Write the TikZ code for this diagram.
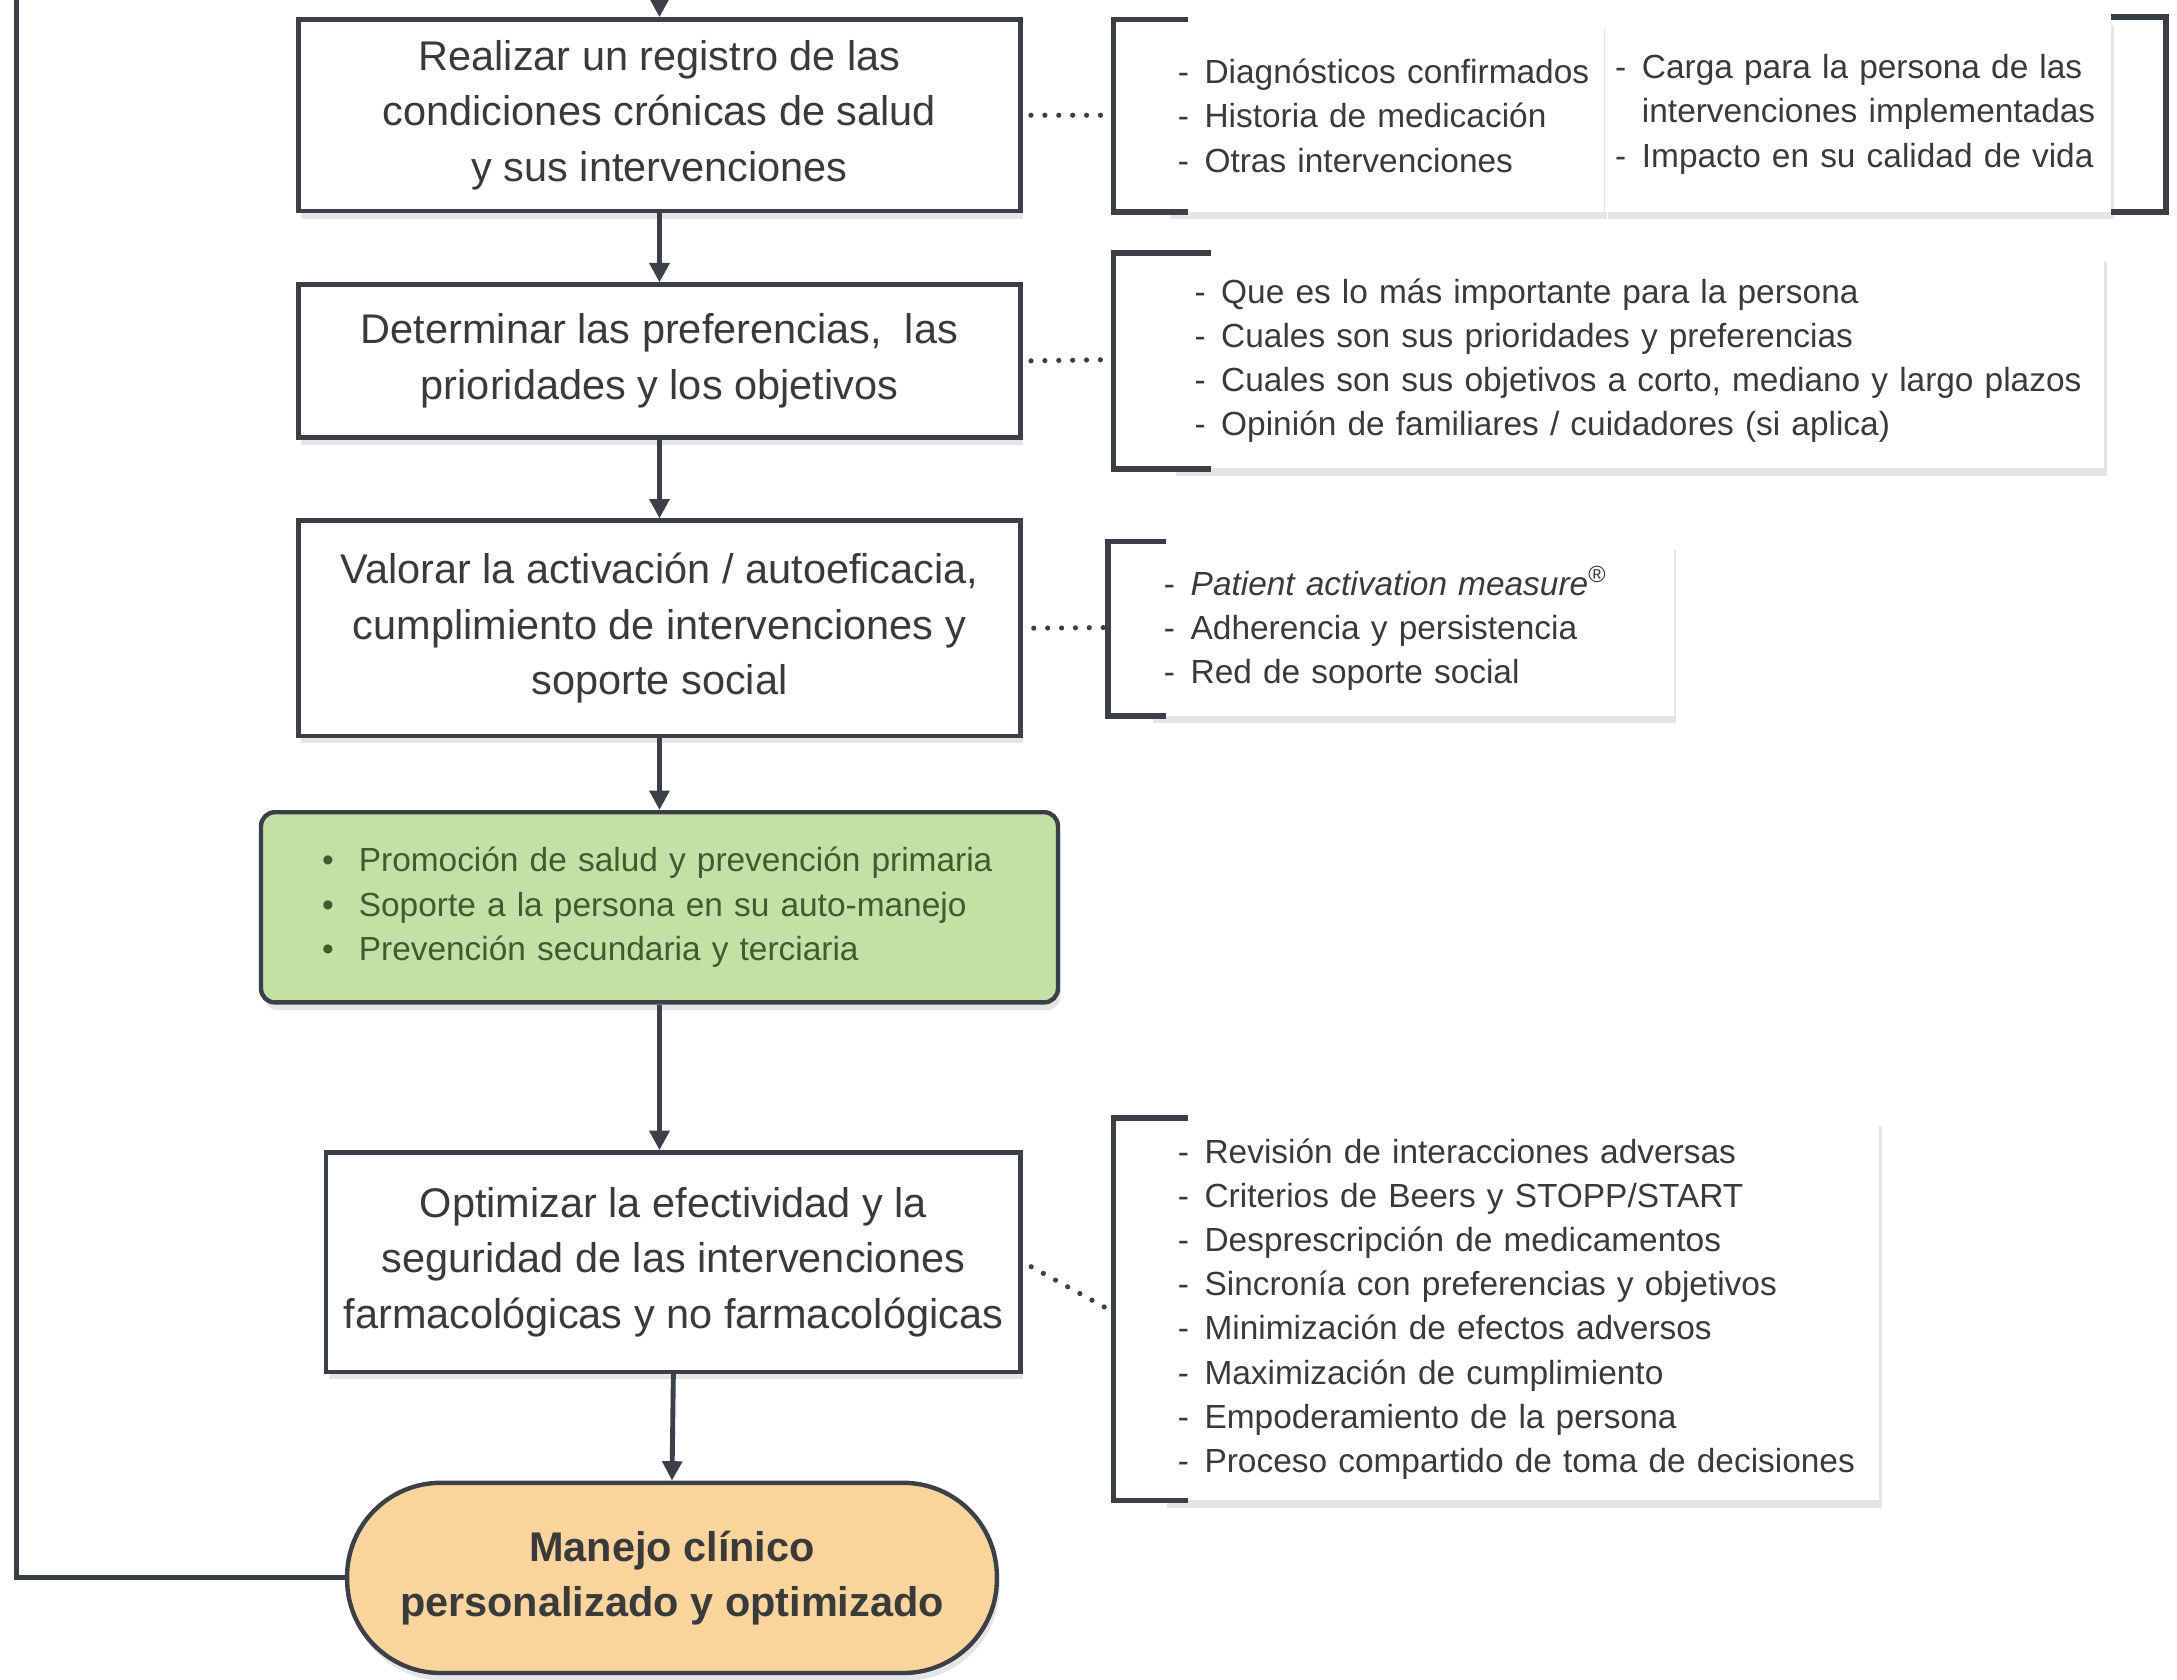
\documentclass[tikz,border=0pt]{standalone}
\usepackage{fontspec}
\setmainfont{Liberation Sans}
\usetikzlibrary{arrows.meta, shadows}

\definecolor{borde}{HTML}{3B4046}
\definecolor{texto}{HTML}{3A3A3A}
\definecolor{verde}{HTML}{C5E0A6}
\definecolor{verdeosc}{HTML}{3E5C30}
\definecolor{naranja}{HTML}{FAD49D}

\newcommand\grande{\fontsize{17}{22.8}\selectfont}
\newcommand\chico{\fontsize{13.7}{18.1}\selectfont}
\newcommand\guion{\makebox[0.8em][l]{-}}
\newcommand\punto{\makebox[1.1em][l]{\textbullet}}

\tikzset{
  sombra/.style={drop shadow={shadow xshift=0.4mm, shadow yshift=-1.1mm, fill=black, opacity=0.1}},
  caja/.style={draw=borde, line width=1.8pt, fill=white, text=texto, font=\grande, align=center, sombra},
  panel/.style={fill=white, text=texto, font=\chico, align=left, anchor=north west, inner ysep=0pt, sombra},
  flecha/.style={draw=borde, line width=2pt, -{Triangle[length=2.8mm, width=2.8mm]}},
  linea/.style={draw=borde, line width=2pt},
  corchete/.style={draw=borde, line width=2.4pt},
  puntos/.style={draw=borde, line width=0.75mm, line cap=round, dash pattern=on 0pt off 2mm},
}

\begin{document}
\begin{tikzpicture}[x=0.2mm, y=-0.2mm]
  \useasboundingbox (0,0) rectangle (1568,1210);

  \begin{scope}
    \node[caja, minimum width=104mm, minimum height=27.6mm] (registro) at (475,83)
      {Realizar un registro de las\\condiciones crónicas de salud\\y sus intervenciones};
    \node[caja, minimum width=104mm, minimum height=22mm] (preferencias) at (475,260)
      {Determinar las preferencias,~ las\\prioridades y los objetivos};
    \node[caja, minimum width=104mm, minimum height=31mm] (valorar) at (475,452.5)
      {Valorar la activación / autoeficacia,\\cumplimiento de intervenciones y\\soporte social};
    \node[caja, fill=verde, text=verdeosc, rounded corners=2mm, font=\chico, align=left,
          text width=97.2mm, inner xsep=8.8mm, minimum height=27.4mm] (promocion) at (475,653.5)
      {\punto Promoción de salud y prevención primaria\\
       \punto Soporte a la persona en su auto-manejo\\
       \punto Prevención secundaria y terciaria};
    \node[caja, minimum width=100mm, minimum height=31.6mm] (optimizar) at (485,909)
      {Optimizar la efectividad y la\\seguridad de las intervenciones\\farmacológicas y no farmacológicas};
    \node[caja, fill=naranja, font=\grande\bfseries, rounded corners=13.5mm,
          minimum width=93.6mm, minimum height=27.4mm] (manejo) at (484,1136.5)
      {Manejo clínico\\personalizado y optimizado};
  \end{scope}

  \begin{scope}
    \node[panel, text width=59.8mm, inner xsep=1.6mm, minimum height=27.6mm] (det1a) at (840,14)
      {\guion Diagnósticos confirmados\\\guion Historia de medicación\\\guion Otras intervenciones};
    \node[panel, text width=70mm, inner xsep=1.4mm, minimum height=28mm] (det1b) at (1156,12)
      {\guion Carga para la persona de las\\\makebox[0.8em]{}intervenciones implementadas\\\guion Impacto en su calidad de vida};
    \node[panel, text width=128mm, inner xsep=3mm, minimum height=31mm] (det2) at (845,182)
      {\guion Que es lo más importante para la persona\\
       \guion Cuales son sus prioridades y preferencias\\
       \guion Cuales son sus objetivos a corto, mediano y largo plazos\\
       \guion Opinión de familiares / cuidadores (si aplica)};
    \node[panel, text width=71.4mm, inner xsep=2mm, minimum height=25mm] (det3) at (828,390)
      {\guion \textit{Patient activation measure}\textsuperscript{®}\\
       \guion Adherencia y persistencia\\
       \guion Red de soporte social};
    \node[panel, text width=99mm, inner xsep=2mm, minimum height=55mm] (det4) at (838,805)
      {\guion Revisión de interacciones adversas\\
       \guion Criterios de Beers y STOPP/START\\
       \guion Desprescripción de medicamentos\\
       \guion Sincronía con preferencias y objetivos\\
       \guion Minimización de efectos adversos\\
       \guion Maximización de cumplimiento\\
       \guion Empoderamiento de la persona\\
       \guion Proceso compartido de toma de decisiones};
  \end{scope}

  % corchetes
  \coordinate (b1) at (802,83);
  \coordinate (b1r) at (1560,83);
  \coordinate (b2) at (802,259);
  \coordinate (b3) at (798,452);
  \coordinate (b4) at (802,945);
  \draw[corchete] ([xshift=3.2mm]det1a.north west) -| (b1) |- ([xshift=3.2mm]det1a.south west);
  \draw[corchete] (det1b.north east) -| (b1r) |- (det1b.south east);
  \draw[corchete] ([xshift=5.4mm]det2.north west) -| (b2) |- ([xshift=5.4mm]det2.south west);
  \draw[corchete] ([xshift=2.4mm]det3.north west) -| (b3) |- ([xshift=2.4mm]det3.south west);
  \draw[corchete] ([xshift=3.6mm]det4.north west) -| (b4) |- ([xshift=3.6mm]det4.south west);

  \draw[puntos, shorten <=1.2mm, shorten >=0.5mm] (registro.east) -- (b1);
  \draw[puntos, shorten <=1.2mm, shorten >=0.5mm] (preferencias.east) -- (b2);
  \draw[puntos, shorten <=1.6mm, shorten >=0.5mm] (valorar.east) -- (b3);
  \draw[puntos, shorten <=1.4mm, shorten >=1.2mm] (optimizar.east) -- (b4);

  % flujo
  \coordinate (inicio) at (475,-4);
  \coordinate (retorno) at (12,-4);
  \draw[flecha] (inicio) -- (registro.north);
  \draw[flecha] (registro) -- (preferencias);
  \draw[flecha] (preferencias) -- (valorar);
  \draw[flecha] (valorar) -- (promocion);
  \draw[flecha] (promocion.south) -- (promocion.south |- optimizar.north);
  \draw[flecha] (optimizar.south) -- (manejo.north);
  \draw[linea] (manejo.west) -| (retorno);
\end{tikzpicture}
\end{document}
